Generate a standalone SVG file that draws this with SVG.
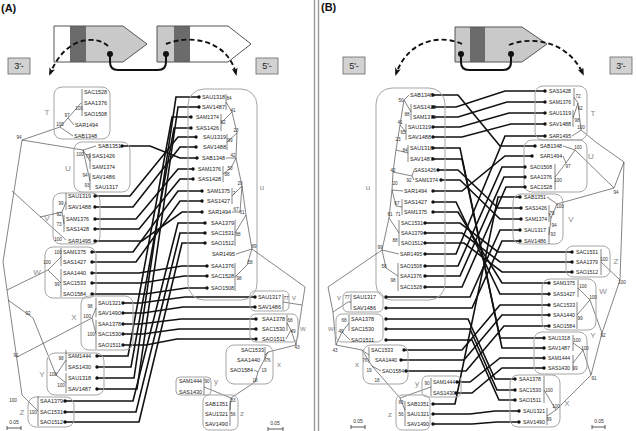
<svg xmlns="http://www.w3.org/2000/svg" width="637" height="431" viewBox="0 0 637 431">
<style>
.l{font-family:"Liberation Sans",Arial,sans-serif;font-size:6px;fill:#1a1a1a}
.b{font-family:"Liberation Sans",Arial,sans-serif;font-size:4.6px;fill:#333;text-anchor:middle}
.c{font-family:"Liberation Sans",Arial,sans-serif;font-size:8px;fill:#8a8a8a;text-anchor:middle}
.bx{fill:none;stroke:#a5a5a5;stroke-width:1}
.t{fill:none;stroke:#333;stroke-width:0.6}
.cn{fill:none;stroke:#111;stroke-width:1.6}
.d{fill:#111}
.e{fill:#d2d2d2;stroke:#666;stroke-width:0.8}
.et{font-family:"Liberation Sans",Arial,sans-serif;font-size:9px;fill:#222;text-anchor:middle}
.ds{fill:none;stroke:#111;stroke-width:1.9;stroke-dasharray:5 3;marker-end:url(#ah)}
.lk{fill:none;stroke:#111;stroke-width:2}
.pl{font-family:"Liberation Sans",Arial,sans-serif;font-size:11px;font-weight:bold;fill:#111}
.sc{fill:none;stroke:#333;stroke-width:0.8}
.sct{font-family:"Liberation Sans",Arial,sans-serif;font-size:5px;fill:#333;text-anchor:middle}
</style>
<defs>
<marker id="ah" markerWidth="8" markerHeight="6" refX="6" refY="3" orient="auto" markerUnits="userSpaceOnUse">
<path d="M0,0L8,3L0,6L2,3Z" fill="#111"/>
</marker>
</defs>
<rect width="637" height="431" fill="#fff"/>
<line x1="314.5" y1="0" x2="314.5" y2="431" stroke="#999" stroke-width="1.4"/>
<line x1="318.5" y1="0" x2="318.5" y2="431" stroke="#999" stroke-width="1.4"/>
<text class="pl" x="1" y="12">(A)</text>
<text class="pl" x="321" y="11">(B)</text>

<g id="A-header">
<rect x="54" y="26" width="16" height="36" fill="#fff"/>
<rect x="70" y="26" width="16" height="36" fill="#6b6b6b"/>
<path d="M86,26H123L147,44L123,62H86Z" fill="#c9c9c9"/>
<path d="M54,26H123L147,44L123,62H54Z" fill="none" stroke="#555"/>
<rect x="157" y="26" width="17" height="36" fill="#c9c9c9"/>
<rect x="174" y="26" width="16" height="36" fill="#6b6b6b"/>
<path d="M190,26H228L251,44L228,62H190Z" fill="#fff"/>
<path d="M157,26H228L251,44L228,62H157Z" fill="none" stroke="#555"/>
<path class="lk" d="M110,54V62Q110,70 118,70H158Q166,70 166,62V54"/>
<circle class="d" cx="110" cy="54" r="3"/>
<circle class="d" cx="166" cy="54" r="3"/>
<path class="ds" d="M108,46C98,36 66,34 50,74"/>
<path class="ds" d="M166,44C190,34 228,40 236,74"/>
<rect class="e" x="8" y="58" width="22" height="16"/>
<text class="et" x="19" y="69">3'-</text>
<rect class="e" x="256" y="58" width="22" height="16"/>
<text class="et" x="267" y="69">5'-</text>
</g>

<g id="B-header">
<rect x="455" y="27" width="15" height="35" fill="#c9c9c9"/>
<rect x="470" y="27" width="15" height="35" fill="#6b6b6b"/>
<path d="M485,27H522L547,44L522,62H485Z" fill="#c9c9c9"/>
<path d="M455,27H522L547,44L522,62H455Z" fill="none" stroke="#555"/>
<path class="lk" d="M461,54V62Q461,70 469,70H503Q511,70 511,62V54"/>
<circle class="d" cx="461" cy="54" r="3"/>
<circle class="d" cx="511" cy="54" r="3"/>
<path class="ds" d="M462,44C440,34 408,40 396,74"/>
<path class="ds" d="M509,45C530,36 568,40 583,74"/>
<rect class="e" x="343" y="57" width="22" height="17"/>
<text class="et" x="354" y="69">5'-</text>
<rect class="e" x="610" y="57" width="22" height="17"/>
<text class="et" x="621" y="69">3'-</text>
</g>

<g id="connectors">
<path class="cn" d="M122,146H150L180,158H197"/>
<path class="cn" d="M95,196H130L178,137H196"/>
<path class="cn" d="M95,207H133L180,147H196"/>
<path class="cn" d="M95,219H136L178,169H193"/>
<path class="cn" d="M95,229H139L180,179H193"/>
<path class="cn" d="M95,241H142L182,212H202"/>
<path class="cn" d="M92,252H133L178,191H202"/>
<path class="cn" d="M92,262H136L180,201H202"/>
<path class="cn" d="M92,273H139L182,266H207"/>
<path class="cn" d="M92,283H142L184,276H207"/>
<path class="cn" d="M92,294H145L186,288H207"/>
<path class="cn" d="M123,303H140L185,297H255"/>
<path class="cn" d="M123,313H143L183,307H255"/>
<path class="cn" d="M123,324H140L181,319H256"/>
<path class="cn" d="M123,334H143L179,329H256"/>
<path class="cn" d="M123,345H146L177,339H256"/>
<path class="cn" d="M97,356H128L172,117H191"/>
<path class="cn" d="M97,367H131L174,128H191"/>
<path class="cn" d="M97,378H134L176,97H199"/>
<path class="cn" d="M97,389H137L178,107H199"/>
<path class="cn" d="M65,401H133L178,223H205"/>
<path class="cn" d="M65,412H136L180,233H205"/>
<path class="cn" d="M65,422H139L182,243H205"/>

<path class="cn" d="M433,95H458L500,146H535"/>
<path class="cn" d="M433,107H456L505,91H545"/>
<path class="cn" d="M433,117H458L507,102H545"/>
<path class="cn" d="M433,127H460L509,113H545"/>
<path class="cn" d="M433,137H462L511,124H545"/>
<path class="cn" d="M433,148H460L500,338H544"/>
<path class="cn" d="M433,159H462L502,348H544"/>
<path class="cn" d="M438,170H458L498,208H521"/>
<path class="cn" d="M441,180H460L500,219H521"/>
<path class="cn" d="M433,191H462L505,156H532"/>
<path class="cn" d="M433,202H456L500,294H549"/>
<path class="cn" d="M433,212H458L502,283H549"/>
<path class="cn" d="M425,223H460L498,252H572"/>
<path class="cn" d="M425,233H462L500,262H572"/>
<path class="cn" d="M425,243H464L502,272H572"/>
<path class="cn" d="M425,254H456L505,136H545"/>
<path class="cn" d="M425,266H458L502,167H525"/>
<path class="cn" d="M425,276H460L504,177H525"/>
<path class="cn" d="M425,287H462L506,187H525"/>
<path class="cn" d="M386,297H470L500,230H520"/>
<path class="cn" d="M386,308H472L502,241H520"/>
<path class="cn" d="M386,319H468L495,379H515"/>
<path class="cn" d="M386,329H470L497,390H515"/>
<path class="cn" d="M386,340H472L499,400H515"/>
<path class="cn" d="M404,350H462L500,305H549"/>
<path class="cn" d="M401,360H464L502,315H549"/>
<path class="cn" d="M406,371H466L504,326H549"/>
<path class="cn" d="M457,382H470L500,358H544"/>
<path class="cn" d="M456,393H472L502,368H544"/>
<path class="cn" d="M433,404H455L498,197H520"/>
<path class="cn" d="M433,414H470L495,411H519"/>
<path class="cn" d="M433,424H472L497,422H519"/>
</g>

<!-- Panel A, 3' tree -->
<g id="A3-tree">
<path class="t" d="M60,127L22,140L83,150 M22,140L3,262L22,395 M12,191L66,240 M48,270L7,290 M56,375L33,318L8,300 M17,357L92,318 M22,395L38,411"/>
<text class="b" x="19" y="139">94</text><text class="b" x="28" y="315">92</text><text class="b" x="16" y="357">91</text><text class="b" x="13" y="402">100</text>
<path class="sc" d="M7,428H21M7,426V430M21,426V430"/><text class="sct" x="14" y="424">0.05</text>
</g>
<g id="A3-T">
<rect class="bx" x="54" y="87" width="56" height="52" rx="8"/>
<text class="c" x="47" y="115">T</text>
<path class="t" d="M82,89V116 M81,103L68,118L74,125 M68,118L60,127L73,136"/>
<text class="b" x="79" y="110">100</text><text class="b" x="67" y="117">97</text><text class="b" x="60" y="126">100</text>
<text class="l" x="84" y="94" textLength="23" lengthAdjust="spacingAndGlyphs">SAC1528</text>
<text class="l" x="84" y="105" textLength="23" lengthAdjust="spacingAndGlyphs">SAA1376</text>
<text class="l" x="84" y="116" textLength="23" lengthAdjust="spacingAndGlyphs">SAO1508</text>
<text class="l" x="75" y="127" textLength="23" lengthAdjust="spacingAndGlyphs">SAR1494</text>
<text class="l" x="74" y="138" textLength="23" lengthAdjust="spacingAndGlyphs">SAB1348</text>
</g>
<g id="A3-U">
<rect class="bx" x="74" y="142" width="56" height="50" rx="8"/>
<text class="c" x="68" y="171">U</text>
<path class="t" d="M83,150L96,146 M83,150L90,161 M83,150L90,181 M90,153V169 M90,173V190"/>
<text class="b" x="80" y="156">100</text><text class="b" x="88" y="158">79</text><text class="b" x="85" y="177">94</text><text class="b" x="87" y="187">93</text>
<text class="l" x="98" y="148" textLength="23" lengthAdjust="spacingAndGlyphs">SAB1351</text>
<text class="l" x="92" y="158" textLength="23" lengthAdjust="spacingAndGlyphs">SAS1426</text>
<text class="l" x="92" y="169" textLength="23" lengthAdjust="spacingAndGlyphs">SAM1374</text>
<text class="l" x="92" y="179" textLength="23" lengthAdjust="spacingAndGlyphs">SAV1486</text>
<text class="l" x="95" y="189" textLength="23" lengthAdjust="spacingAndGlyphs">SAU1317</text>
<circle class="d" cx="122" cy="146" r="1.7"/>
</g>
<g id="A3-V">
<rect class="bx" x="53" y="193" width="47" height="51" rx="8"/>
<text class="c" x="47" y="221">V</text>
<path class="t" d="M66,193V210 M64,215V232 M62,212L66,202 M62,212L64,224 M62,212L40,217"/>
<text class="b" x="61" y="205">99</text><text class="b" x="59" y="216">92</text><text class="b" x="59" y="226">73</text><text class="b" x="58" y="241">100</text>
<text class="l" x="68" y="198" textLength="23" lengthAdjust="spacingAndGlyphs">SAU1319</text>
<text class="l" x="68" y="209" textLength="23" lengthAdjust="spacingAndGlyphs">SAV1488</text>
<text class="l" x="66" y="221" textLength="23" lengthAdjust="spacingAndGlyphs">SAM1376</text>
<text class="l" x="66" y="231" textLength="23" lengthAdjust="spacingAndGlyphs">SAS1428</text>
<text class="l" x="68" y="243" textLength="23" lengthAdjust="spacingAndGlyphs">SAR1495</text>
<circle class="d" cx="95" cy="196" r="1.7"/><circle class="d" cx="95" cy="207" r="1.7"/><circle class="d" cx="95" cy="219" r="1.7"/><circle class="d" cx="95" cy="229" r="1.7"/><circle class="d" cx="95" cy="241" r="1.7"/>
</g>
<g id="A3-W">
<rect class="bx" x="45" y="247" width="51" height="51" rx="8"/>
<text class="c" x="37" y="275">W</text>
<path class="t" d="M61,248V266 M61,269V297 M48,270L61,257 M48,270L61,283"/>
<text class="b" x="58" y="254">100</text><text class="b" x="47" y="264">100</text><text class="b" x="57" y="286">99</text>
<text class="l" x="63" y="254" textLength="23" lengthAdjust="spacingAndGlyphs">SAM1375</text>
<text class="l" x="63" y="264" textLength="23" lengthAdjust="spacingAndGlyphs">SAS1427</text>
<text class="l" x="63" y="275" textLength="23" lengthAdjust="spacingAndGlyphs">SAA1440</text>
<text class="l" x="63" y="285" textLength="23" lengthAdjust="spacingAndGlyphs">SAC1533</text>
<text class="l" x="63" y="296" textLength="23" lengthAdjust="spacingAndGlyphs">SAO1584</text>
<circle class="d" cx="92" cy="252" r="1.7"/><circle class="d" cx="92" cy="262" r="1.7"/><circle class="d" cx="92" cy="273" r="1.7"/><circle class="d" cx="92" cy="283" r="1.7"/><circle class="d" cx="92" cy="294" r="1.7"/>
</g>
<g id="A3-X">
<rect class="bx" x="81" y="296" width="52" height="54" rx="8"/>
<text class="c" x="74" y="320">X</text>
<path class="t" d="M96,298V317 M96,320V349 M92,318L96,308 M92,318L96,334"/>
<text class="b" x="90" y="308">98</text><text class="b" x="87" y="318">100</text><text class="b" x="91" y="336">100</text>
<text class="l" x="98" y="305" textLength="23" lengthAdjust="spacingAndGlyphs">SAU1321</text>
<text class="l" x="98" y="315" textLength="23" lengthAdjust="spacingAndGlyphs">SAV1490</text>
<text class="l" x="98" y="326" textLength="23" lengthAdjust="spacingAndGlyphs">SAA1378</text>
<text class="l" x="98" y="336" textLength="23" lengthAdjust="spacingAndGlyphs">SAC1530</text>
<text class="l" x="98" y="347" textLength="23" lengthAdjust="spacingAndGlyphs">SAO1511</text>
<circle class="d" cx="123" cy="303" r="1.7"/><circle class="d" cx="123" cy="313" r="1.7"/><circle class="d" cx="123" cy="324" r="1.7"/><circle class="d" cx="123" cy="334" r="1.7"/><circle class="d" cx="123" cy="345" r="1.7"/>
</g>
<g id="A3-Y">
<rect class="bx" x="47" y="353" width="57" height="42" rx="8"/>
<text class="c" x="42" y="377">Y</text>
<path class="t" d="M66,350V371 M66,373V393 M56,375L66,360 M56,375L66,383"/>
<text class="b" x="61" y="360">98</text><text class="b" x="53" y="376">100</text><text class="b" x="61" y="387">100</text>
<text class="l" x="68" y="358" textLength="23" lengthAdjust="spacingAndGlyphs">SAM1444</text>
<text class="l" x="68" y="369" textLength="23" lengthAdjust="spacingAndGlyphs">SAS1430</text>
<text class="l" x="68" y="380" textLength="23" lengthAdjust="spacingAndGlyphs">SAU1318</text>
<text class="l" x="68" y="391" textLength="23" lengthAdjust="spacingAndGlyphs">SAV1487</text>
<circle class="d" cx="97" cy="356" r="1.7"/><circle class="d" cx="97" cy="367" r="1.7"/><circle class="d" cx="97" cy="378" r="1.7"/><circle class="d" cx="97" cy="389" r="1.7"/>
</g>
<g id="A3-Z">
<rect class="bx" x="28" y="397" width="46" height="30" rx="8"/>
<text class="c" x="22" y="415">Z</text>
<path class="t" d="M38,396V426"/>
<text class="b" x="33" y="414">100</text>
<text class="l" x="40" y="403" textLength="23" lengthAdjust="spacingAndGlyphs">SAA1379</text>
<text class="l" x="40" y="414" textLength="23" lengthAdjust="spacingAndGlyphs">SAC1531</text>
<text class="l" x="40" y="424" textLength="23" lengthAdjust="spacingAndGlyphs">SAO1512</text>
<circle class="d" cx="65" cy="401" r="1.7"/><circle class="d" cx="65" cy="412" r="1.7"/><circle class="d" cx="65" cy="422" r="1.7"/>
</g>

<!-- Panel A, 5' tree -->
<g id="A5-u">
<rect class="bx" x="188" y="89" width="69" height="211" rx="16"/>
<text class="c" x="262" y="190">u</text>
<path class="t" d="M226,94V110 M221,114V131 M227,134V150 M223,166V182 M232,188V204 M235,220V246 M235,263V291 M226,102L232,112L221,123 M232,112L237,133L227,142 M237,133L236,158L226,158 M236,158L231,168L223,174 M236,158L242,186L232,196 M242,186L240,212L232,212 M242,186L246,215L235,233 M246,215L252,249L236,254 M252,249L247,265L235,277"/>
<text class="b" x="229" y="100">84</text><text class="b" x="233" y="112">41</text><text class="b" x="223" y="124">92</text><text class="b" x="236" y="132">23</text><text class="b" x="230" y="142">99</text><text class="b" x="233" y="157">42</text><text class="b" x="230" y="170">50</text><text class="b" x="227" y="176">88</text><text class="b" x="240" y="185">20</text><text class="b" x="234" y="195">7</text><text class="b" x="236" y="211">67</text><text class="b" x="242" y="214">61</text><text class="b" x="238" y="236">88</text><text class="b" x="254" y="248">89</text><text class="b" x="250" y="264">58</text><text class="b" x="239" y="280">98</text>
<text class="l" x="202" y="99" textLength="23" lengthAdjust="spacingAndGlyphs">SAU1318</text>
<text class="l" x="202" y="109" textLength="23" lengthAdjust="spacingAndGlyphs">SAV1487</text>
<text class="l" x="196" y="119" textLength="23" lengthAdjust="spacingAndGlyphs">SAM1374</text>
<text class="l" x="196" y="130" textLength="23" lengthAdjust="spacingAndGlyphs">SAS1426</text>
<text class="l" x="203" y="139" textLength="23" lengthAdjust="spacingAndGlyphs">SAU1319</text>
<text class="l" x="203" y="149" textLength="23" lengthAdjust="spacingAndGlyphs">SAV1488</text>
<text class="l" x="202" y="160" textLength="23" lengthAdjust="spacingAndGlyphs">SAB1348</text>
<text class="l" x="198" y="171" textLength="23" lengthAdjust="spacingAndGlyphs">SAM1376</text>
<text class="l" x="198" y="181" textLength="23" lengthAdjust="spacingAndGlyphs">SAS1428</text>
<text class="l" x="207" y="193" textLength="23" lengthAdjust="spacingAndGlyphs">SAM1375</text>
<text class="l" x="207" y="203" textLength="23" lengthAdjust="spacingAndGlyphs">SAS1427</text>
<text class="l" x="208" y="214" textLength="23" lengthAdjust="spacingAndGlyphs">SAR1494</text>
<text class="l" x="211" y="225" textLength="23" lengthAdjust="spacingAndGlyphs">SAA1379</text>
<text class="l" x="211" y="235" textLength="23" lengthAdjust="spacingAndGlyphs">SAC1531</text>
<text class="l" x="211" y="245" textLength="23" lengthAdjust="spacingAndGlyphs">SAO1512</text>
<text class="l" x="212" y="256" textLength="23" lengthAdjust="spacingAndGlyphs">SAR1495</text>
<text class="l" x="211" y="268" textLength="23" lengthAdjust="spacingAndGlyphs">SAA1376</text>
<text class="l" x="211" y="278" textLength="23" lengthAdjust="spacingAndGlyphs">SAC1528</text>
<text class="l" x="211" y="290" textLength="23" lengthAdjust="spacingAndGlyphs">SAO1508</text>
<circle class="d" cx="199" cy="97" r="1.7"/><circle class="d" cx="199" cy="107" r="1.7"/><circle class="d" cx="191" cy="117" r="1.7"/><circle class="d" cx="191" cy="128" r="1.7"/><circle class="d" cx="196" cy="137" r="1.7"/><circle class="d" cx="196" cy="147" r="1.7"/><circle class="d" cx="197" cy="158" r="1.7"/><circle class="d" cx="193" cy="169" r="1.7"/><circle class="d" cx="193" cy="179" r="1.7"/><circle class="d" cx="202" cy="191" r="1.7"/><circle class="d" cx="202" cy="201" r="1.7"/><circle class="d" cx="202" cy="212" r="1.7"/><circle class="d" cx="205" cy="223" r="1.7"/><circle class="d" cx="205" cy="233" r="1.7"/><circle class="d" cx="205" cy="243" r="1.7"/><circle class="d" cx="207" cy="266" r="1.7"/><circle class="d" cx="207" cy="276" r="1.7"/><circle class="d" cx="207" cy="288" r="1.7"/>
</g>
<g id="A5-tree">
<path class="t" d="M252,249L305,287L296,345 M302,305L283,302 M296,345L291,330L287,323 M291,330L286,339 M296,345L268,352L265,355 M268,352L258,372L254,370 M258,372L255,382L231,398L230,410 M231,398L204,387"/>
<text class="b" x="297" y="349">43</text>
<path class="sc" d="M268,429H283M268,427V431M283,427V431"/><text class="sct" x="275" y="425">0.05</text>
</g>
<g id="A5-v">
<rect class="bx" x="250" y="291" width="39" height="20" rx="5"/>
<text class="c" x="294" y="300">v</text>
<path class="t" d="M283,294V310"/>
<text class="b" x="286" y="300">77</text>
<text class="l" x="258" y="299" textLength="23" lengthAdjust="spacingAndGlyphs">SAU1317</text>
<text class="l" x="258" y="309" textLength="23" lengthAdjust="spacingAndGlyphs">SAV1486</text>
<circle class="d" cx="255" cy="297" r="1.7"/><circle class="d" cx="255" cy="307" r="1.7"/>
</g>
<g id="A5-w">
<rect class="bx" x="250" y="314" width="48" height="28" rx="6"/>
<text class="c" x="303" y="331">w</text>
<path class="t" d="M287,315V331"/>
<text class="b" x="290" y="322">68</text><text class="b" x="293" y="333">49</text>
<text class="l" x="262" y="321" textLength="23" lengthAdjust="spacingAndGlyphs">SAA1378</text>
<text class="l" x="262" y="331" textLength="23" lengthAdjust="spacingAndGlyphs">SAC1530</text>
<text class="l" x="262" y="341" textLength="23" lengthAdjust="spacingAndGlyphs">SAO1511</text>
<circle class="d" cx="256" cy="319" r="1.7"/><circle class="d" cx="256" cy="329" r="1.7"/><circle class="d" cx="256" cy="339" r="1.7"/>
</g>
<g id="A5-x">
<rect class="bx" x="226" y="345" width="47" height="39" rx="8"/>
<text class="c" x="279" y="367">x</text>
<path class="t" d="M265,347V362"/>
<text class="b" x="268" y="362">76</text><text class="b" x="264" y="372">19</text><text class="b" x="255" y="382">18</text>
<text class="l" x="241" y="352" textLength="23" lengthAdjust="spacingAndGlyphs">SAC1533</text>
<text class="l" x="237" y="362" textLength="23" lengthAdjust="spacingAndGlyphs">SAA1440</text>
<text class="l" x="230" y="372" textLength="23" lengthAdjust="spacingAndGlyphs">SAO1584</text>
</g>
<g id="A5-y">
<rect class="bx" x="176" y="377" width="35" height="18" rx="4"/>
<text class="c" x="216" y="384">y</text>
<path class="t" d="M204,378V395"/>
<text class="b" x="207" y="383">90</text>
<text class="l" x="179" y="383" textLength="23" lengthAdjust="spacingAndGlyphs">SAM1444</text>
<text class="l" x="179" y="394" textLength="23" lengthAdjust="spacingAndGlyphs">SAS1430</text>
</g>
<g id="A5-z">
<rect class="bx" x="203" y="395" width="35" height="35" rx="6"/>
<text class="c" x="242" y="416">z</text>
<path class="t" d="M230,401V426"/>
<text class="b" x="233" y="402">83</text><text class="b" x="233" y="416">56</text>
<text class="l" x="205" y="406" textLength="23" lengthAdjust="spacingAndGlyphs">SAB1351</text>
<text class="l" x="205" y="416" textLength="23" lengthAdjust="spacingAndGlyphs">SAU1321</text>
<text class="l" x="205" y="426" textLength="23" lengthAdjust="spacingAndGlyphs">SAV1490</text>
</g>

<!-- Panel B, 5' tree -->
<g id="B5-u">
<rect class="bx" x="376" y="88" width="69" height="212" rx="16"/>
<text class="c" x="368" y="190">u</text>
<path class="t" d="M404,100L409,95 M404,100L411,112 M411,104V120 M404,100L400,125L406,132 M406,124V140 M400,125L396,150L408,153 M408,145V162 M396,150L393,172L412,176 M412,176L414,170 M412,176L414,180 M393,172L392,190L403,191 M392,190L396,206L402,207 M402,199V215 M392,190L389,218L399,233 M399,220V246 M389,218L382,250L399,254 M382,250L386,268L398,276 M398,263V291"/>
<text class="b" x="401" y="102">50</text><text class="b" x="407" y="116">88</text><text class="b" x="400" y="124">41</text><text class="b" x="403" y="134">65</text><text class="b" x="398" y="141">23</text><text class="b" x="405" y="152">84</text><text class="b" x="393" y="172">42</text><text class="b" x="409" y="182">92</text><text class="b" x="395" y="185">20</text><text class="b" x="397" y="205">67</text><text class="b" x="390" y="216">61</text><text class="b" x="398" y="216">71</text><text class="b" x="395" y="242">88</text><text class="b" x="380" y="249">99</text><text class="b" x="384" y="268">58</text><text class="b" x="393" y="282">98</text>
<text class="l" x="410" y="97" textLength="23" lengthAdjust="spacingAndGlyphs">SAB1348</text>
<text class="l" x="413" y="109" textLength="23" lengthAdjust="spacingAndGlyphs">SAS1428</text>
<text class="l" x="413" y="119" textLength="23" lengthAdjust="spacingAndGlyphs">SAM1376</text>
<text class="l" x="408" y="129" textLength="23" lengthAdjust="spacingAndGlyphs">SAU1319</text>
<text class="l" x="408" y="139" textLength="23" lengthAdjust="spacingAndGlyphs">SAV1488</text>
<text class="l" x="410" y="150" textLength="23" lengthAdjust="spacingAndGlyphs">SAU1318</text>
<text class="l" x="410" y="161" textLength="23" lengthAdjust="spacingAndGlyphs">SAV1487</text>
<text class="l" x="414" y="172" textLength="22" lengthAdjust="spacingAndGlyphs">SAS1426</text>
<text class="l" x="415" y="182" textLength="23" lengthAdjust="spacingAndGlyphs">SAM1374</text>
<text class="l" x="404" y="193" textLength="23" lengthAdjust="spacingAndGlyphs">SAR1494</text>
<text class="l" x="404" y="204" textLength="23" lengthAdjust="spacingAndGlyphs">SAS1427</text>
<text class="l" x="404" y="214" textLength="23" lengthAdjust="spacingAndGlyphs">SAM1375</text>
<text class="l" x="401" y="225" textLength="22" lengthAdjust="spacingAndGlyphs">SAC1531</text>
<text class="l" x="401" y="235" textLength="22" lengthAdjust="spacingAndGlyphs">SAA1379</text>
<text class="l" x="401" y="245" textLength="22" lengthAdjust="spacingAndGlyphs">SAO1512</text>
<text class="l" x="400" y="256" textLength="22" lengthAdjust="spacingAndGlyphs">SAR1495</text>
<text class="l" x="400" y="268" textLength="22" lengthAdjust="spacingAndGlyphs">SAO1508</text>
<text class="l" x="400" y="278" textLength="22" lengthAdjust="spacingAndGlyphs">SAA1376</text>
<text class="l" x="400" y="289" textLength="22" lengthAdjust="spacingAndGlyphs">SAC1528</text>
<circle class="d" cx="433" cy="95" r="1.7"/><circle class="d" cx="433" cy="107" r="1.7"/><circle class="d" cx="433" cy="117" r="1.7"/><circle class="d" cx="433" cy="127" r="1.7"/><circle class="d" cx="433" cy="137" r="1.7"/><circle class="d" cx="433" cy="148" r="1.7"/><circle class="d" cx="433" cy="159" r="1.7"/><circle class="d" cx="438" cy="170" r="1.7"/><circle class="d" cx="441" cy="180" r="1.7"/><circle class="d" cx="433" cy="191" r="1.7"/><circle class="d" cx="433" cy="202" r="1.7"/><circle class="d" cx="433" cy="212" r="1.7"/><circle class="d" cx="425" cy="223" r="1.7"/><circle class="d" cx="425" cy="233" r="1.7"/><circle class="d" cx="425" cy="243" r="1.7"/><circle class="d" cx="425" cy="254" r="1.7"/><circle class="d" cx="425" cy="266" r="1.7"/><circle class="d" cx="425" cy="276" r="1.7"/><circle class="d" cx="425" cy="287" r="1.7"/>
</g>
<g id="B5-tree">
<path class="t" d="M382,250L328,287L333,312L336,345 M333,312L348,302L351,302 M336,345L342,332L349,323 M342,332L350,340 M336,345L362,350L369,355 M362,350L372,366L381,371 M372,366L400,398L405,410 M400,398L431,387"/>
<text class="b" x="335" y="352">43</text>
<path class="sc" d="M351,427H365M351,425V429M365,425V429"/><text class="sct" x="358" y="423">0.05</text>
</g>
<g id="B5-v">
<rect class="bx" x="343" y="292" width="40" height="20" rx="5"/>
<text class="c" x="339" y="300">v</text>
<path class="t" d="M351,294V310"/>
<text class="b" x="347" y="299">77</text>
<text class="l" x="353" y="299" textLength="23" lengthAdjust="spacingAndGlyphs">SAU1317</text>
<text class="l" x="353" y="310" textLength="23" lengthAdjust="spacingAndGlyphs">SAV1486</text>
<circle class="d" cx="386" cy="297" r="1.7"/><circle class="d" cx="386" cy="308" r="1.7"/>
</g>
<g id="B5-w">
<rect class="bx" x="336" y="314" width="47" height="28" rx="6"/>
<text class="c" x="331" y="331">w</text>
<path class="t" d="M349,315V331"/>
<text class="b" x="344" y="322">68</text><text class="b" x="341" y="333">49</text>
<text class="l" x="351" y="321" textLength="23" lengthAdjust="spacingAndGlyphs">SAA1378</text>
<text class="l" x="351" y="331" textLength="23" lengthAdjust="spacingAndGlyphs">SAC1530</text>
<text class="l" x="351" y="342" textLength="23" lengthAdjust="spacingAndGlyphs">SAO1511</text>
<circle class="d" cx="386" cy="319" r="1.7"/><circle class="d" cx="386" cy="329" r="1.7"/><circle class="d" cx="386" cy="340" r="1.7"/>
</g>
<g id="B5-x">
<rect class="bx" x="363" y="345" width="45" height="39" rx="8"/>
<text class="c" x="357" y="367">x</text>
<path class="t" d="M369,347V363"/>
<text class="b" x="365" y="362">76</text><text class="b" x="369" y="372">19</text><text class="b" x="377" y="382">18</text>
<text class="l" x="371" y="352" textLength="22" lengthAdjust="spacingAndGlyphs">SAC1533</text>
<text class="l" x="375" y="362" textLength="22" lengthAdjust="spacingAndGlyphs">SAA1440</text>
<text class="l" x="382" y="373" textLength="22" lengthAdjust="spacingAndGlyphs">SAO1584</text>
<circle class="d" cx="404" cy="350" r="1.7"/><circle class="d" cx="401" cy="360" r="1.7"/><circle class="d" cx="406" cy="371" r="1.7"/>
</g>
<g id="B5-y">
<rect class="bx" x="422" y="376" width="39" height="21" rx="5"/>
<text class="c" x="417" y="386">y</text>
<path class="t" d="M431,378V396"/>
<text class="b" x="427" y="385">90</text>
<text class="l" x="433" y="384" textLength="22" lengthAdjust="spacingAndGlyphs">SAM1444</text>
<text class="l" x="433" y="395" textLength="22" lengthAdjust="spacingAndGlyphs">SAS1430</text>
<circle class="d" cx="457" cy="382" r="1.7"/><circle class="d" cx="456" cy="393" r="1.7"/>
</g>
<g id="B5-z">
<rect class="bx" x="396" y="395" width="34" height="35" rx="6"/>
<text class="c" x="390" y="417">z</text>
<path class="t" d="M405,401V426"/>
<text class="b" x="401" y="404">83</text><text class="b" x="401" y="416">56</text>
<text class="l" x="407" y="406" textLength="22" lengthAdjust="spacingAndGlyphs">SAB1351</text>
<text class="l" x="407" y="416" textLength="22" lengthAdjust="spacingAndGlyphs">SAU1321</text>
<text class="l" x="407" y="426" textLength="22" lengthAdjust="spacingAndGlyphs">SAV1490</text>
<circle class="d" cx="433" cy="404" r="1.7"/><circle class="d" cx="433" cy="414" r="1.7"/><circle class="d" cx="433" cy="424" r="1.7"/>
</g>

<!-- Panel B, 3' tree -->
<g id="B3-tree">
<path class="t" d="M581,130L597,143L624,162L614,188 M575,150L614,188 M557,204L614,188 M624,162L620,280L602,333L591,375L556,410 M620,280L601,262 M602,333L590,300 M591,375L583,350"/>
<text class="b" x="616" y="194">94</text><text class="b" x="622" y="284">100</text><text class="b" x="603" y="337">92</text><text class="b" x="594" y="380">91</text>
<path class="sc" d="M592,427H605M592,425V429M605,425V429"/><text class="sct" x="599" y="423">0.05</text>
</g>
<g id="B3-T">
<rect class="bx" x="535" y="86" width="52" height="54" rx="8"/>
<text class="c" x="593" y="116">T</text>
<path class="t" d="M574,88V106 M573,110V127 M574,97L578,103L573,118 M578,103L581,130L572,136"/>
<text class="b" x="578" y="98">72</text><text class="b" x="580" y="110">92</text><text class="b" x="577" y="122">98</text><text class="b" x="581" y="129">100</text>
<text class="l" x="549" y="93" textLength="22" lengthAdjust="spacingAndGlyphs">SAS1428</text>
<text class="l" x="549" y="104" textLength="22" lengthAdjust="spacingAndGlyphs">SAM1376</text>
<text class="l" x="549" y="115" textLength="22" lengthAdjust="spacingAndGlyphs">SAU1319</text>
<text class="l" x="549" y="126" textLength="22" lengthAdjust="spacingAndGlyphs">SAV1488</text>
<text class="l" x="549" y="138" textLength="22" lengthAdjust="spacingAndGlyphs">SAR1495</text>
<circle class="d" cx="545" cy="91" r="1.7"/><circle class="d" cx="545" cy="102" r="1.7"/><circle class="d" cx="545" cy="113" r="1.7"/><circle class="d" cx="545" cy="124" r="1.7"/><circle class="d" cx="545" cy="136" r="1.7"/>
</g>
<g id="B3-U">
<rect class="bx" x="524" y="140" width="63" height="52" rx="8"/>
<text class="c" x="591" y="159">U</text>
<path class="t" d="M563,146L575,150 M575,150L566,163L563,156 M566,163L555,177 M555,164V190"/>
<text class="b" x="578" y="149">100</text><text class="b" x="568" y="168">97</text><text class="b" x="558" y="182">100</text>
<text class="l" x="540" y="148" textLength="22" lengthAdjust="spacingAndGlyphs">SAB1348</text>
<text class="l" x="540" y="158" textLength="22" lengthAdjust="spacingAndGlyphs">SAR1494</text>
<text class="l" x="530" y="169" textLength="22" lengthAdjust="spacingAndGlyphs">SAO1508</text>
<text class="l" x="530" y="179" textLength="22" lengthAdjust="spacingAndGlyphs">SAA1376</text>
<text class="l" x="530" y="189" textLength="22" lengthAdjust="spacingAndGlyphs">SAC1528</text>
<circle class="d" cx="535" cy="146" r="1.7"/><circle class="d" cx="532" cy="156" r="1.7"/><circle class="d" cx="525" cy="167" r="1.7"/><circle class="d" cx="525" cy="177" r="1.7"/><circle class="d" cx="525" cy="187" r="1.7"/>
</g>
<g id="B3-V">
<rect class="bx" x="513" y="194" width="50" height="50" rx="8"/>
<text class="c" x="571" y="222">V</text>
<path class="t" d="M547,197L557,204 M557,204L551,218 M549,205V222 M549,227V244 M551,218L549,213 M551,218L549,235"/>
<text class="b" x="560" y="208">100</text><text class="b" x="552" y="215">79</text><text class="b" x="554" y="227">94</text><text class="b" x="553" y="236">93</text>
<text class="l" x="524" y="199" textLength="22" lengthAdjust="spacingAndGlyphs">SAB1351</text>
<text class="l" x="525" y="210" textLength="22" lengthAdjust="spacingAndGlyphs">SAS1426</text>
<text class="l" x="525" y="221" textLength="22" lengthAdjust="spacingAndGlyphs">SAM1374</text>
<text class="l" x="524" y="232" textLength="22" lengthAdjust="spacingAndGlyphs">SAU1317</text>
<text class="l" x="524" y="243" textLength="22" lengthAdjust="spacingAndGlyphs">SAV1486</text>
<circle class="d" cx="520" cy="197" r="1.7"/><circle class="d" cx="521" cy="208" r="1.7"/><circle class="d" cx="521" cy="219" r="1.7"/><circle class="d" cx="520" cy="230" r="1.7"/><circle class="d" cx="520" cy="241" r="1.7"/>
</g>
<g id="B3-Z">
<rect class="bx" x="566" y="246" width="44" height="31" rx="7"/>
<text class="c" x="616" y="264">Z</text>
<path class="t" d="M601,249V275"/>
<text class="b" x="604" y="261">100</text>
<text class="l" x="576" y="254" textLength="22" lengthAdjust="spacingAndGlyphs">SAC1531</text>
<text class="l" x="576" y="264" textLength="22" lengthAdjust="spacingAndGlyphs">SAA1379</text>
<text class="l" x="576" y="274" textLength="22" lengthAdjust="spacingAndGlyphs">SAO1512</text>
<circle class="d" cx="572" cy="252" r="1.7"/><circle class="d" cx="572" cy="262" r="1.7"/><circle class="d" cx="572" cy="272" r="1.7"/>
</g>
<g id="B3-W">
<rect class="bx" x="542" y="279" width="54" height="51" rx="8"/>
<text class="c" x="603" y="294">W</text>
<path class="t" d="M578,280V297 M577,302V329 M590,300L578,288 M590,300L577,315"/>
<text class="b" x="583" y="288">100</text><text class="b" x="593" y="299">100</text><text class="b" x="580" y="320">99</text>
<text class="l" x="553" y="285" textLength="22" lengthAdjust="spacingAndGlyphs">SAM1375</text>
<text class="l" x="553" y="296" textLength="22" lengthAdjust="spacingAndGlyphs">SAS1427</text>
<text class="l" x="553" y="307" textLength="22" lengthAdjust="spacingAndGlyphs">SAC1533</text>
<text class="l" x="553" y="317" textLength="22" lengthAdjust="spacingAndGlyphs">SAA1440</text>
<text class="l" x="553" y="328" textLength="22" lengthAdjust="spacingAndGlyphs">SAO1584</text>
<circle class="d" cx="549" cy="283" r="1.7"/><circle class="d" cx="549" cy="294" r="1.7"/><circle class="d" cx="549" cy="305" r="1.7"/><circle class="d" cx="549" cy="315" r="1.7"/><circle class="d" cx="549" cy="326" r="1.7"/>
</g>
<g id="B3-Y">
<rect class="bx" x="534" y="332" width="53" height="42" rx="8"/>
<text class="c" x="593" y="338">Y</text>
<path class="t" d="M573,335V351 M573,355V371 M583,350L573,343 M583,350L573,363"/>
<text class="b" x="577" y="342">100</text><text class="b" x="585" y="350">100</text><text class="b" x="575" y="370">99</text>
<text class="l" x="548" y="340" textLength="22" lengthAdjust="spacingAndGlyphs">SAU1318</text>
<text class="l" x="548" y="350" textLength="22" lengthAdjust="spacingAndGlyphs">SAV1487</text>
<text class="l" x="548" y="360" textLength="22" lengthAdjust="spacingAndGlyphs">SAM1444</text>
<text class="l" x="548" y="370" textLength="22" lengthAdjust="spacingAndGlyphs">SAS1430</text>
<circle class="d" cx="544" cy="338" r="1.7"/><circle class="d" cx="544" cy="348" r="1.7"/><circle class="d" cx="544" cy="358" r="1.7"/><circle class="d" cx="544" cy="368" r="1.7"/>
</g>
<g id="B3-X">
<rect class="bx" x="510" y="375" width="50" height="52" rx="8"/>
<text class="c" x="567" y="406">X</text>
<path class="t" d="M544,376V403 M547,408V425 M556,410L544,390 M556,410L547,416"/>
<text class="b" x="549" y="392">100</text><text class="b" x="556" y="408">100</text><text class="b" x="549" y="421">99</text>
<text class="l" x="519" y="381" textLength="22" lengthAdjust="spacingAndGlyphs">SAA1378</text>
<text class="l" x="519" y="392" textLength="22" lengthAdjust="spacingAndGlyphs">SAC1530</text>
<text class="l" x="519" y="402" textLength="22" lengthAdjust="spacingAndGlyphs">SAO1511</text>
<text class="l" x="523" y="413" textLength="22" lengthAdjust="spacingAndGlyphs">SAU1321</text>
<text class="l" x="523" y="424" textLength="22" lengthAdjust="spacingAndGlyphs">SAV1490</text>
<circle class="d" cx="515" cy="379" r="1.7"/><circle class="d" cx="515" cy="390" r="1.7"/><circle class="d" cx="515" cy="400" r="1.7"/><circle class="d" cx="519" cy="411" r="1.7"/><circle class="d" cx="519" cy="422" r="1.7"/>
</g>
</svg>
